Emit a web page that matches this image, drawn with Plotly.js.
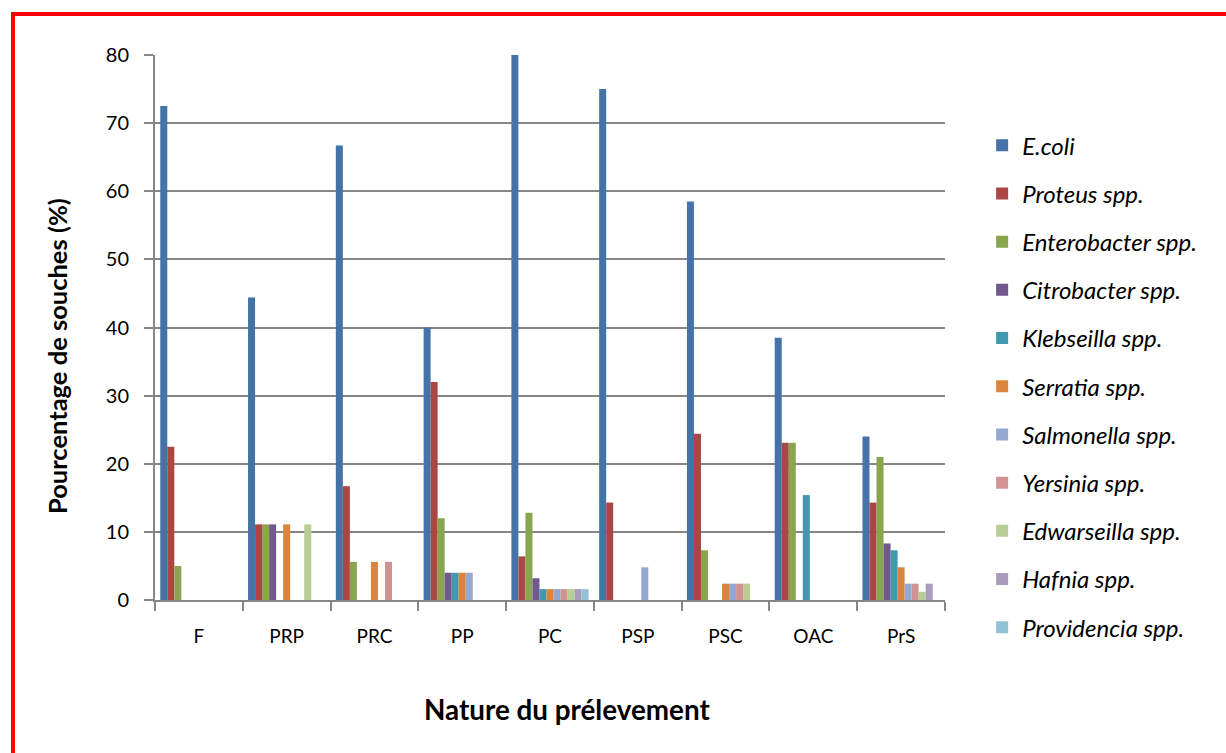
<!DOCTYPE html>
<html>
<head>
<meta charset="utf-8">
<script src="https://cdn.plot.ly/plotly-3.0.1.min.js"></script>
<style>
  html, body { margin: 0; padding: 0; background: #fff; }
  #chart { width: 1226px; height: 753px; }
  #frame { position: absolute; left: 11px; top: 12px; width: 1300px; height: 800px;
           border-left: 4px solid #ff0000; border-top: 4px solid #ff0000; pointer-events: none; }
</style>
</head>
<body>
<div id="chart"></div>
<div id="frame"></div>
<script>
const categories = ['F', 'PRP', 'PRC', 'PP', 'PC', 'PSP', 'PSC', 'OAC', 'PrS'];
const seriesNames = ['E.coli', 'Proteus spp.', 'Enterobacter spp.', 'Citrobacter spp.', 'Klebseilla spp.',
  'Serratia spp.', 'Salmonella spp.', 'Yersinia spp.', 'Edwarseilla spp.', 'Hafnia spp.', 'Providencia spp.'];
const ecoli       = [72.5, 44.4, 66.7, 40.0, 80.0, 75.0, 58.5, 38.5, 24.0];
const proteus     = [22.5, 11.1, 16.7, 32.0, 6.4, 14.3, 24.4, 23.1, 14.3];
const enterobacter= [5.0, 11.1, 5.6, 12.0, 12.8, 0, 7.3, 23.1, 21.0];
const citrobacter = [0, 11.1, 0, 4.0, 3.2, 0, 0, 0, 8.3];
const klebseilla  = [0, 0, 0, 4.0, 1.6, 0, 0, 15.4, 7.3];
const serratia    = [0, 11.1, 5.6, 4.0, 1.6, 0, 2.4, 0, 4.8];
const salmonella  = [0, 0, 0, 4.0, 1.6, 4.8, 2.4, 0, 2.4];
const yersinia    = [0, 0, 5.6, 0, 1.6, 0, 2.4, 0, 2.4];
const edwarseilla = [0, 11.1, 0, 0, 1.6, 0, 2.4, 0, 1.2];
const hafnia      = [0, 0, 0, 0, 1.6, 0, 0, 0, 2.4];
const providencia = [0, 0, 0, 0, 1.6, 0, 0, 0, 0];
const yTicks = [0, 10, 20, 30, 40, 50, 60, 70, 80];
const xTitle = 'Nature du prélevement';
const yTitle = 'Pourcentage de souches (%)';

const allSeries = [ecoli, proteus, enterobacter, citrobacter, klebseilla, serratia,
  salmonella, yersinia, edwarseilla, hafnia, providencia];
const colors = ['#4572A7', '#AA4643', '#89A54E', '#71588F', '#4198AF', '#DB843D',
  '#93A9CF', '#D19392', '#B9CD96', '#A99BBD', '#92C3D4'];

const font = 'Lato, "Open Sans", "DejaVu Sans", sans-serif';

const traces = allSeries.map((vals, i) => ({
  type: 'bar',
  name: seriesNames[i],
  x: categories,
  y: vals,
  legendgroup: 'g' + i,
  marker: { color: colors[i], line: { width: 0 } },
  hoverinfo: 'x+y+name'
}));

const layout = {
  width: 1226, height: 753,
  margin: { l: 155, r: 281, t: 55, b: 153 },
  paper_bgcolor: '#ffffff', plot_bgcolor: '#ffffff',
  barmode: 'group', bargap: 0.12, bargroupgap: 0,
  font: { family: font, size: 19, color: '#000' },
  showlegend: true,
  legend: {
    x: 1.047, xanchor: 'left', y: 0.875, yanchor: 'top',
    traceorder: 'grouped', tracegroupgap: 14,
    maxheight: 700,
    font: { family: font, size: 24, color: '#000', style: 'italic' },
    itemwidth: 30, bgcolor: 'rgba(0,0,0,0)'
  },
  xaxis: {
    type: 'category',
    showline: true, linecolor: '#868686', linewidth: 2,
    ticks: 'outside', tickson: 'boundaries', ticklen: 9, tickcolor: '#868686', tickwidth: 2,
    ticklabelstandoff: 18,
    showgrid: false,
    tickfont: { family: font, size: 19, color: '#000' }
  },
  yaxis: {
    range: [0, 80], tickvals: yTicks, ticktext: yTicks.map(String),
    showline: true, linecolor: '#868686', linewidth: 2,
    ticks: 'outside', ticklen: 9, tickcolor: '#868686', tickwidth: 2,
    showgrid: true, gridcolor: '#868686', gridwidth: 2,
    zeroline: false,
    ticklabelstandoff: 11,
    tickfont: { family: font, size: 20, color: '#000' }
  },
  annotations: [
    { text: xTitle, xref: 'paper', yref: 'paper', x: 0.5215, y: -0.2018,
      xanchor: 'center', yanchor: 'middle', showarrow: false,
      font: { family: font, size: 27.8, color: '#000', weight: 'bold' } },
    { text: yTitle, xref: 'paper', yref: 'paper', x: -0.124, y: 0.4477,
      xanchor: 'center', yanchor: 'middle', showarrow: false, textangle: -90,
      font: { family: font, size: 25.5, color: '#000', weight: 'bold' } }
  ]
};

Plotly.newPlot('chart', traces, layout, { displayModeBar: false, staticPlot: true });
</script>
</body>
</html>
